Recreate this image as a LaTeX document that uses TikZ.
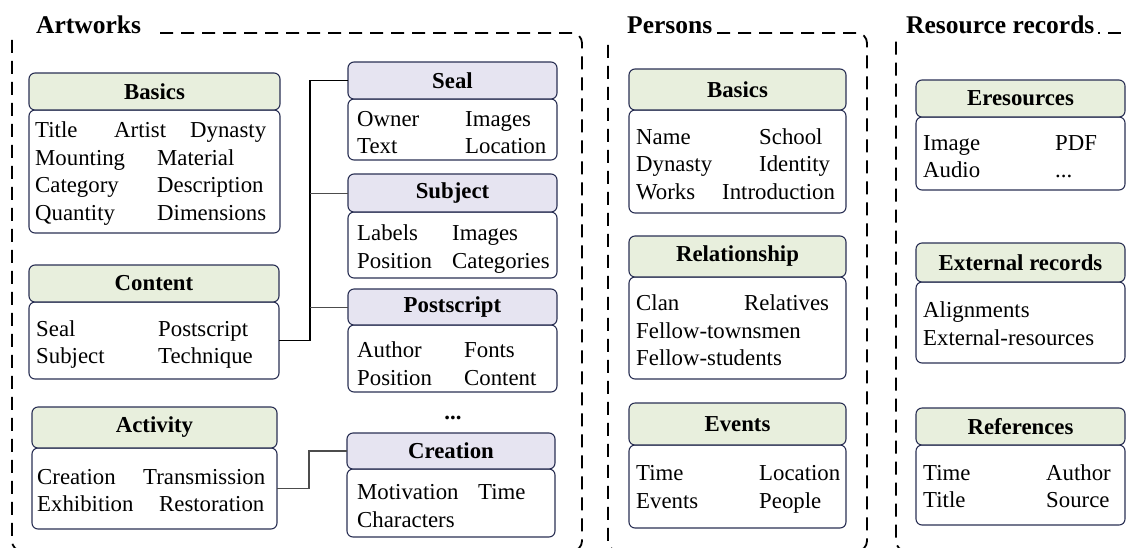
\documentclass[tikz,border=0pt]{standalone}
\usepackage{fontspec}
\setmainfont{Liberation Serif}
\usetikzlibrary{calc}
\definecolor{boxline}{RGB}{42,48,84}
\definecolor{greenhd}{RGB}{232,239,221}
\definecolor{purplehd}{RGB}{230,228,241}
\newcommand{\lc}[2]{\makebox[#1pt][l]{#2}}
\begin{document}
\begin{tikzpicture}[x=1pt,y=-1pt,
  boxbase/.style={draw=boxline, line width=1.1pt, rounded corners=6pt, anchor=north west, inner sep=0pt, outer sep=0pt},
  ghead/.style={boxbase, fill=greenhd, font=\fontsize{22.8}{27}\selectfont\bfseries},
  phead/.style={boxbase, fill=purplehd, font=\fontsize{22.8}{27}\selectfont\bfseries},
  bodybox/.style={boxbase, fill=white},
  items/.style={anchor=west, align=left, inner sep=0pt, font=\fontsize{22.8}{27.5}\selectfont},
  grptitle/.style={anchor=base west, inner sep=0pt, font=\fontsize{25.5}{30}\selectfont\bfseries},
  frameline/.style={draw=black, line width=1.8pt, dash pattern=on 13pt off 8pt, rounded corners=10pt},
  link/.style={draw=black, line width=1.3pt},
  sublink/.style={draw=black!70, line width=1pt}
]
\useasboundingbox (0,0) rectangle (1135,547);

% group frames
\node[grptitle] (tart) at (36,33) {Artworks};
\node[grptitle] (tper) at (627,33) {Persons};
\node[grptitle] (tres) at (906,33) {Resource records};
\draw[frameline] (160,33) -- (582,33) -- (582,551) -- (12,551) -- (12,37);
\draw[frameline] (717,33) -- (867,33) -- (867,551) -- (608,551) -- (608,40);
\draw[frameline, dash phase=11pt] (1098,33) -- (1124,33);
\draw[frameline] (1160,551) -- (896,551) -- (896,40);

% Artworks: main records
\node[bodybox, minimum width=251, minimum height=123] (abb) at (29,110) {};
\node[ghead, minimum width=251, minimum height=37] (abh) at (29,73) {Basics};
\node[items] (abt) at ([xshift=6,yshift=-2]abb.west) {\lc{79}{Title}\lc{76}{Artist}Dynasty\\ \lc{122}{Mounting}Material\\ \lc{122}{Category}Description\\ \lc{122}{Quantity}Dimensions};

\node[bodybox, minimum width=250, minimum height=77] (acb) at (29,302) {};
\node[ghead, minimum width=250, minimum height=37] (ach) at (29,265) {Content};
\node[items] (act) at ([xshift=7,yshift=-4]acb.west) {\lc{122}{Seal}Postscript\\ \lc{122}{Subject}Technique};

\node[bodybox, minimum width=245, minimum height=81] (aab) at (32,448) {};
\node[ghead, minimum width=245, minimum height=41] (aah) at (32,407) {Activity};
\node[items] (aat) at ([xshift=5,yshift=-2]aab.west) {\lc{106}{Creation}Transmission\\ \lc{122}{Exhibition}Restoration};

% Artworks: detail records
\node[bodybox, minimum width=209, minimum height=61] (sb) at (348,99) {};
\node[phead, minimum width=209, minimum height=37] (sh) at (348,62) {Seal};
\node[items] (stx) at ([xshift=9,yshift=-3]sb.west) {\lc{108}{Owner}Images\\ \lc{108}{Text}Location};

\node[bodybox, minimum width=209, minimum height=66] (subb) at (348,212) {};
\node[phead, minimum width=209, minimum height=38] (subh) at (348,174) {Subject};
\node[items] (subt) at ([xshift=9,yshift=-4]subb.west) {\lc{95}{Labels}Images\\ \lc{95}{Position}Categories};

\node[bodybox, minimum width=209, minimum height=67] (psb) at (348,325) {};
\node[phead, minimum width=209, minimum height=36] (psh) at (348,289) {Postscript};
\node[items] (pst) at ([xshift=9,yshift=-5]psb.west) {\lc{107}{Author}Fonts\\ \lc{107}{Position}Content};

\node[inner sep=0pt, font=\fontsize{22.8}{27}\selectfont\bfseries] (dots) at (453,418) {...};

\node[bodybox, minimum width=208, minimum height=68] (crb) at (347,469) {};
\node[phead, minimum width=208, minimum height=36] (crh) at (347,433) {Creation};
\node[items] (crt) at ([xshift=10,yshift=-3]crb.west) {\lc{121}{Motivation}Time\\ Characters};

% links from main records to detail records
\coordinate (trunk) at (310,0);
\coordinate (elbow) at (309,0);
\draw[link] (acb.east) -- (acb.east -| trunk) -- (trunk |- sh.west) -- (sh.west);
\draw[sublink] (trunk |- subh.west) -- (subh.west);
\draw[sublink] (trunk |- psh.west) -- (psh.west);
\draw[sublink, line width=1.2pt] (aab.east) -- (aab.east -| elbow) -- (elbow |- crh.west) -- (crh.west);

% Persons
\node[bodybox, minimum width=217, minimum height=103] (pbb) at (629,110) {};
\node[ghead, minimum width=217, minimum height=41] (pbh) at (629,69) {Basics};
\node[items] (pbt) at ([xshift=7,yshift=-2.5]pbb.west) {\lc{123}{Name}School\\ \lc{123}{Dynasty}Identity\\ \lc{86}{Works}Introduction};

\node[bodybox, minimum width=217, minimum height=102] (prb) at (629,277) {};
\node[ghead, minimum width=217, minimum height=41] (prh) at (629,236) {Relationship};
\node[items] (prt) at ([xshift=7,yshift=-2.5]prb.west) {\lc{108}{Clan}Relatives\\ Fellow-townsmen\\ Fellow-students};

\node[bodybox, minimum width=217, minimum height=83] (peb) at (629,445) {};
\node[ghead, minimum width=217, minimum height=42] (peh) at (629,403) {Events};
\node[items] (pet) at ([xshift=7,yshift=-3]peb.west) {\lc{123}{Time}Location\\ \lc{123}{Events}People};

% Resource records
\node[bodybox, minimum width=209, minimum height=73] (reb) at (916,117) {};
\node[ghead, minimum width=209, minimum height=37] (reh) at (916,80) {Eresources};
\node[items] (ret) at ([xshift=7,yshift=-3]reb.west) {\lc{132}{Image}PDF\\ \lc{132}{Audio}...};

\node[bodybox, minimum width=209, minimum height=81] (rxb) at (916,282) {};
\node[ghead, minimum width=209, minimum height=39] (rxh) at (916,243) {External records};
\node[items] (rxt) at ([xshift=7,yshift=-1]rxb.west) {Alignments\\ External-resources};

\node[bodybox, minimum width=209, minimum height=80] (rfb) at (916,445) {};
\node[ghead, minimum width=209, minimum height=37] (rfh) at (916,408) {References};
\node[items] (rft) at ([xshift=7,yshift=-1]rfb.west) {\lc{123}{Time}Author\\ \lc{123}{Title}Source};

\end{tikzpicture}
\end{document}
